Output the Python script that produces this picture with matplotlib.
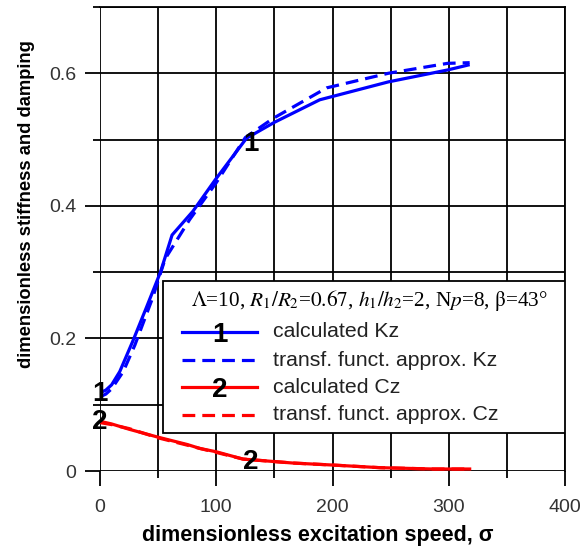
import matplotlib
matplotlib.use("Agg")

import numpy as np
import matplotlib.pyplot as plt
from matplotlib.ticker import MultipleLocator

# -------------------------------
# Data
# -------------------------------
sigma_kz = [0, 5, 10, 17, 28, 40, 52, 62, 80, 99, 126, 150, 189, 248, 299, 318]
kz_calc = [0.118, 0.122, 0.130, 0.150, 0.195, 0.247, 0.300, 0.356, 0.392, 0.439, 0.502, 0.526, 0.560, 0.587, 0.605, 0.613]

sigma_kz_tf = [0, 5, 10, 20, 30, 45, 56, 77, 100, 125, 149, 195, 248, 299, 318]
kz_tf = [0.112, 0.116, 0.124, 0.150, 0.190, 0.260, 0.320, 0.379, 0.435, 0.503, 0.532, 0.578, 0.600, 0.615, 0.616]

sigma_cz = [0, 10, 25, 50, 75, 86, 100, 123, 166, 200, 241, 287, 318]
cz_calc = [0.075, 0.071, 0.063, 0.051, 0.040, 0.034, 0.029, 0.018, 0.012, 0.009, 0.005, 0.003, 0.003]
cz_tf = [0.073, 0.070, 0.064, 0.050, 0.039, 0.034, 0.028, 0.018, 0.012, 0.009, 0.005, 0.003, 0.003]

curve_labels = [("1", 0, 0.116), ("2", 0, 0.074), ("1", 130, 0.494), ("2", 130, 0.013)]

legend_title = (r"$\Lambda$=10, $R_1/R_2$=$\mathit{0.67}$, $h_1/h_2$=2, N$p$=8, $\mathrm{\beta}$=43°")
legend_rows = ["calculated Kz", "transf. funct. approx. Kz",
               "calculated Cz", "transf. funct. approx. Cz"]

plt.rcParams["font.family"] = ["Liberation Sans", "DejaVu Sans"]
plt.rcParams["mathtext.fontset"] = "stix"

# -------------------------------
# Plot
# -------------------------------
fig = plt.figure(figsize=(5.8, 5.56), dpi=100)
ax = fig.add_axes([100 / 580, 1 - 471 / 556, 465 / 580, 464 / 556])

lw = 2.3
dash = (4.0, 2.2)
ax.plot(sigma_kz, kz_calc, color="#0000ff", lw=lw, solid_capstyle="butt", zorder=3)
ax.plot(sigma_kz_tf, kz_tf, color="#0000ff", lw=lw, dashes=dash, zorder=3)
ax.plot(sigma_cz, cz_calc, color="#ff0000", lw=lw, zorder=3)
ax.plot(sigma_cz, cz_tf, color="#ff0000", lw=lw, dashes=dash, zorder=3)

for txt, xv, yv in curve_labels:
    ax.text(xv, yv, txt, fontsize=20, fontweight="bold", ha="center", va="center", zorder=4)

ax.set_xlim(0, 400)
ax.set_ylim(0, 0.7)
ax.xaxis.set_major_locator(MultipleLocator(100))
ax.xaxis.set_minor_locator(MultipleLocator(50))
ax.set_yticks([0, 0.2, 0.4, 0.6])
ax.set_yticklabels(["0", "0.2", "0.4", "0.6"])
ax.yaxis.set_minor_locator(MultipleLocator(0.1))
ax.grid(True, which="both", color="black", lw=1.3)
ax.set_axisbelow(True)
ax.tick_params(which="major", length=11, width=1.3, labelsize=14, colors="black")
ax.tick_params(which="minor", length=5, width=1.3)
ax.tick_params(axis="x", pad=9, labelcolor="#333333")
ax.tick_params(axis="y", pad=6, labelcolor="#333333")
for s in ax.spines.values():
    s.set_linewidth(1.3)
ax.spines["left"].set_visible(False)
ax.spines["bottom"].set_visible(False)

ax.set_xlabel("dimensionless excitation speed, σ", fontsize=15.5, fontweight="bold",
              labelpad=7, x=0.468)
ax.set_ylabel("dimensionless stiffness and damping", fontsize=13.2, fontweight="bold",
              labelpad=10, y=0.575)

# -------------------------------
# Legend box drawn by hand
# -------------------------------
box = plt.Rectangle((0.1355, 0.082), 0.8645, 0.3275, transform=ax.transAxes,
                    facecolor="white", edgecolor="black", lw=1.3, zorder=5)
ax.add_patch(box)
ax.text(0.196, 0.3685, legend_title, transform=ax.transAxes, fontsize=15.3,
        family="Liberation Serif", va="center", ha="left", zorder=6)

row_y = [0.2996, 0.239, 0.181, 0.1207]
row_color = ["#0000ff", "#0000ff", "#ff0000", "#ff0000"]
row_dash = [None, dash, None, dash]
row_num = ["1", None, "2", None]
for y, c, d, n, t in zip(row_y, row_color, row_dash, row_num, legend_rows):
    line, = ax.plot([0.176, 0.338], [y, y], color=c, lw=lw, transform=ax.transAxes,
                    zorder=6, clip_on=False)
    if d is not None:
        line.set_dashes(d)
    if n is not None:
        ax.text(0.257, y - 0.006, n, transform=ax.transAxes, fontsize=20,
                fontweight="bold", ha="center", va="center", zorder=7)
    ax.text(0.372, y, t, transform=ax.transAxes, fontsize=15.3, color="#222222",
            ha="left", va="center", zorder=7)

fig.savefig("out.png", dpi=100)
